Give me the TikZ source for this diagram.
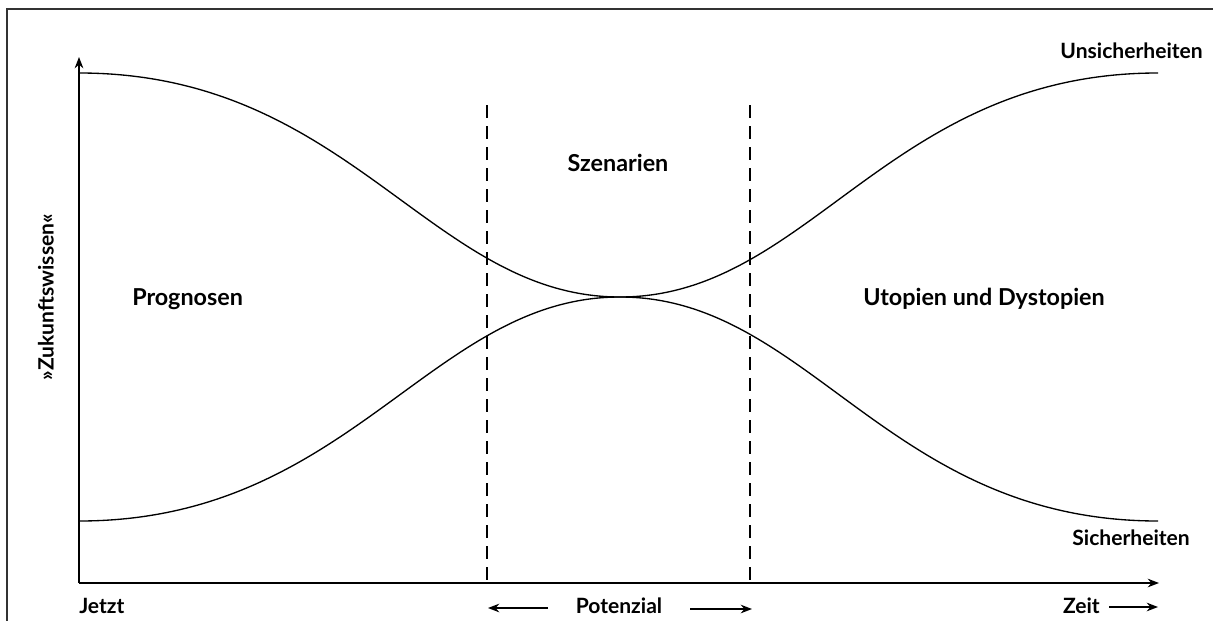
\documentclass[tikz,border=0pt]{standalone}
\usepackage{fontspec}
\setmainfont{Lato}
\usetikzlibrary{arrows.meta,positioning}

\begin{document}
\begin{tikzpicture}[x=0.75pt, y=-0.75pt, arrow/.style={line width=1pt,-{Stealth[length=8.5pt,width=6.5pt]}}, curve/.style={line width=1pt}]
		\tikzset{big/.style={font=\bfseries\fontsize{17.5}{20}\selectfont, inner sep=0pt}}
		\tikzset{small/.style={font=\bfseries\fontsize{15.8}{18}\selectfont, inner sep=0pt}}
		\tikzset{limit/.style={line width=1pt, dash pattern=on 9.75pt off 6pt}}

		\useasboundingbox (0,0) rectangle (1213,621);

		% Frame
		\draw[line width=1.1pt, black!80] (1213,9) -- (7,9) -- (7,621);

		% Axes
		\coordinate (origin) at (79,583);
		\coordinate (ytop) at (79,57);
		\coordinate (xend) at (1159,583);
		\draw [arrow] (origin) -- (ytop);
		\draw [arrow] (origin) -- (xend);

		% Curves
		\coordinate (neck) at (620,297);
		\coordinate (ustart) at (79,73);
		\coordinate (uend) at (1158,73);
		\coordinate (sstart) at (79,521);
		\coordinate (send) at (1158,521);
		\draw [curve] (ustart) .. controls (350,73) and (431,297) .. (neck) .. controls (809,297) and (888,73) .. (uend);
		\draw [curve] (sstart) .. controls (350,521) and (431,297) .. (neck) .. controls (809,297) and (888,521) .. (send);

		% Dashed limits
		\coordinate (lefttop) at (487,105);
		\coordinate (leftbot) at (487,583);
		\coordinate (righttop) at (750,105);
		\coordinate (rightbot) at (750,583);
		\draw [limit] (lefttop) -- (leftbot);
		\draw [limit] (righttop) -- (rightbot);

		% Labels
		\node[big, anchor=base west] (prognosen) at (132,305) {Prognosen};
		\node[big, anchor=base] (szenarien) at (618,171) {Szenarien};
		\node[big, anchor=base] (utopien) at (984,305) {Utopien und Dystopien};
		\node[small, anchor=base east] (unsicher) at (1203,58) {Unsicherheiten};
		\node[small, anchor=base east] (sicher) at (1190,545) {Sicherheiten};
		\node[small, rotate=90] (wissen) at (46,297) {»Zukunftswissen«};
		\node[small, anchor=base west] (jetzt) at (79,613) {Jetzt};
		\node[small, anchor=base] (potenzial) at (619,613) {Potenzial};
		\node[small, anchor=base east] (zeit) at (1100,613) {Zeit};

		% Arrows below the axis
		\coordinate (potlefts) at (548,608);
		\coordinate (potleft) at (488,608);
		\coordinate (potrights) at (690,609);
		\coordinate (potright) at (752,609);
		\coordinate (zeitstart) at (1109,607);
		\coordinate (zeitend) at (1158,607);
		\draw [arrow] (potlefts) -- (potleft);
		\draw [arrow] (potrights) -- (potright);
		\draw [arrow] (zeitstart) -- (zeitend);

	\end{tikzpicture}
\end{document}
